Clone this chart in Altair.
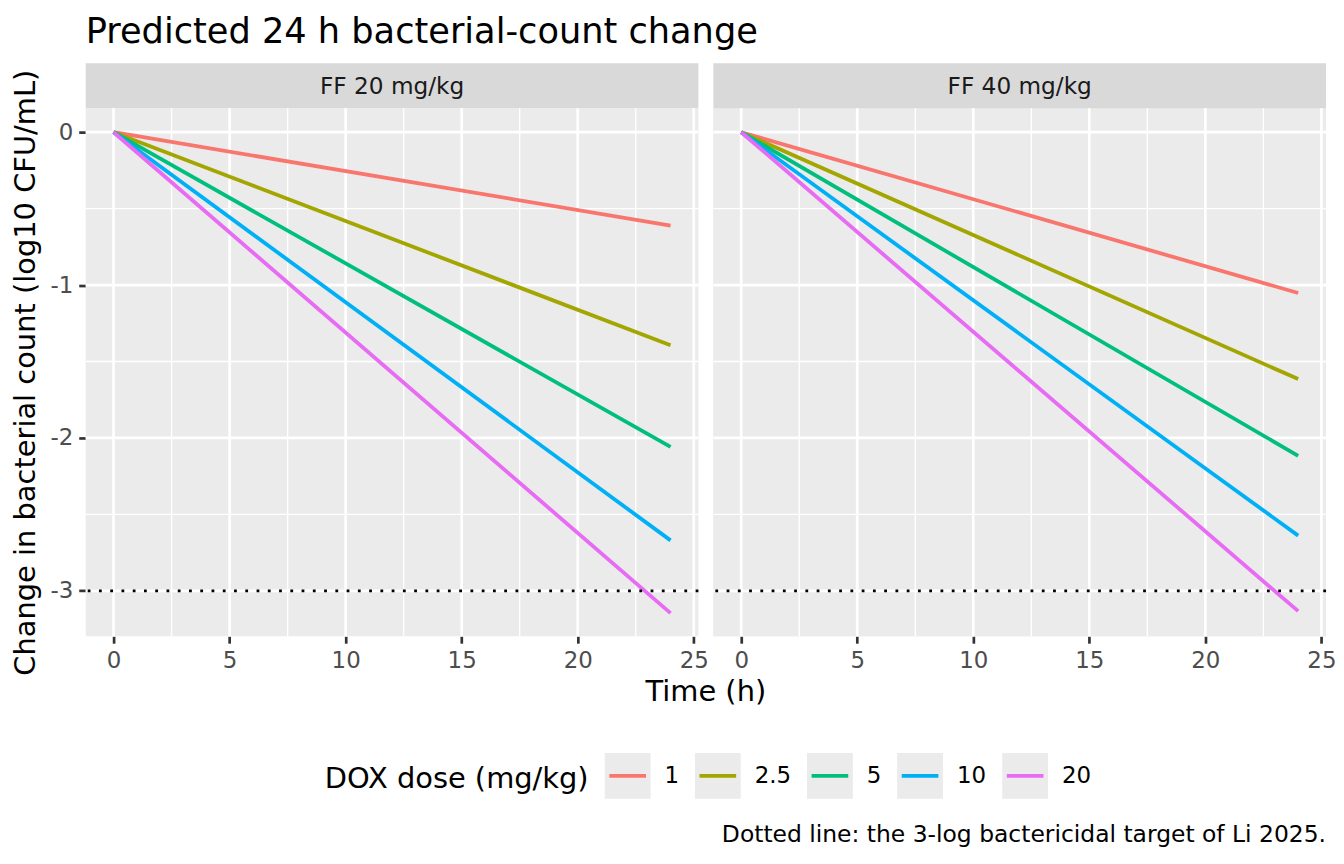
import altair as alt
import pandas as pd

# ---------------- data ----------------
title_text = "Predicted 24 h bacterial-count change"
panels = ["FF 20 mg/kg", "FF 40 mg/kg"]
doses = ["1", "2.5", "5", "10", "20"]
dose_colors = ["#F8766D", "#A3A500", "#00BF7D", "#00B0F6", "#E76BF3"]
times = [0, 24]
start_ff20 = [0, 0, 0, 0, 0]
end_ff20 = [-0.611, -1.394, -2.059, -2.670, -3.146]
start_ff40 = [0, 0, 0, 0, 0]
end_ff40 = [-1.052, -1.615, -2.117, -2.639, -3.133]
x_major = [0, 5, 10, 15, 20, 25]
x_minor = [2.5, 7.5, 12.5, 17.5, 22.5]
y_major = [0, -1, -2, -3]
y_minor = [-0.5, -1.5, -2.5]
target_line = [-3]
x_title = "Time (h)"
y_title = "Change in bacterial count (log10 CFU/mL)"
legend_title = "DOX dose (mg/kg)"
caption = "Dotted line: the 3-log bactericidal target of Li 2025."

# ---------------- styling ----------------
FONT = "DejaVu Sans"
W, H = 615, 530
STRIP = 45
LX, LY = 240, 645
SW = 3.8  # data line width

xscale = alt.Scale(domain=[-1.2, 25.2], nice=False, zero=False)
yscale = alt.Scale(domain=[-3.297, 0.157], nice=False, zero=False)

xaxis = alt.Axis(values=x_major, title=None, grid=False, domain=False,
                 tickSize=7, tickWidth=2.7, tickColor="#333333",
                 labelFont=FONT, labelFontSize=23, labelColor="#4D4D4D",
                 labelPadding=6, labelFlush=False, labelOverlap=False)
yaxis_left = alt.Axis(values=y_major, title=y_title, grid=False, domain=False,
                      tickSize=7, tickWidth=2.7, tickColor="#333333",
                      labelFont=FONT, labelFontSize=23, labelColor="#4D4D4D",
                      labelPadding=6, labelFlush=False, labelOverlap=False,
                      labelExpr="replace(datum.label, '\u2212', '-')",
                      titleFont=FONT, titleFontSize=29, titleFontWeight="normal",
                      titleColor="black", titlePadding=9, titleLimit=800)

legend_common = dict(orient="none", legendX=LX, legendY=LY, direction="horizontal",
                     title=legend_title, titleOrient="left", titleAnchor="middle",
                     titleBaseline="middle", titleFont=FONT, titleFontSize=29,
                     titleFontWeight="normal", titleColor="black", titlePadding=14,
                     titleLimit=500, labelLimit=200,
                     labelFont=FONT, labelFontSize=23, labelColor="black",
                     labelOffset=12, columnPadding=7.5, symbolSize=2116,
                     symbolStrokeWidth=SW, padding=0)

# line key: a short stroke, with zero-length corner points so its bounds equal the box
legend_lines = alt.Legend(symbolType="M-1,-1L-1,-1M1,1L1,1M-0.8,0L0.8,0",
                          zindex=2, **legend_common)
legend_boxes = alt.Legend(symbolType="M-1,-1H1V1H-1Z", symbolStrokeColor="transparent",
                          symbolOpacity=1, labelOpacity=0, titleOpacity=0, zindex=1,
                          **legend_common)


def panel(name, starts, ends, left):
    yax = yaxis_left if left else None
    rows = []
    for d, s, e in zip(doses, starts, ends):
        rows.append({"dose": d, "time": times[0], "change": s})
        rows.append({"dose": d, "time": times[1], "change": e})
    df = pd.DataFrame(rows)

    X = lambda f: alt.X(f, scale=xscale, axis=xaxis)
    Y = lambda f: alt.Y(f, scale=yscale, axis=yax)
    one = pd.DataFrame({"panel": [name]})

    bg = alt.Chart(one).mark_rect(fill="#EBEBEB").encode(
        x=alt.value(0), x2=alt.value(W), y=alt.value(0), y2=alt.value(H))
    strip_rect = alt.Chart(one).mark_rect(fill="#D9D9D9").encode(
        x=alt.value(0), x2=alt.value(W), y=alt.value(-STRIP), y2=alt.value(0))
    strip_text = alt.Chart(one).mark_text(
        font=FONT, fontSize=23.3, color="#1A1A1A", baseline="alphabetic",
        align="center").encode(x=alt.value(W / 2), y=alt.value(-14), text="panel:N")

    gx_minor = alt.Chart(pd.DataFrame({"gx": x_minor})).mark_rule(
        color="white", strokeWidth=1.35).encode(x=X("gx:Q"))
    gx_major = alt.Chart(pd.DataFrame({"gx": x_major})).mark_rule(
        color="white", strokeWidth=2.7).encode(x=X("gx:Q"))
    gy_minor = alt.Chart(pd.DataFrame({"gy": y_minor})).mark_rule(
        color="white", strokeWidth=1.35).encode(y=Y("gy:Q"))
    gy_major = alt.Chart(pd.DataFrame({"gy": y_major})).mark_rule(
        color="white", strokeWidth=2.7).encode(y=Y("gy:Q"))

    lines = alt.Chart(df).mark_line(strokeWidth=SW).encode(
        x=X("time:Q"), y=Y("change:Q"),
        color=alt.Color("dose:N", scale=alt.Scale(domain=doses, range=dose_colors),
                        legend=legend_lines),
        order="time:Q")

    target = alt.Chart(pd.DataFrame({"ty": target_line})).mark_rule(
        color="black", strokeWidth=2.8, strokeDash=[2.8, 8.5]).encode(y=Y("ty:Q"))

    layers = [bg, strip_rect, strip_text, gx_minor, gx_major, gy_minor, gy_major,
              lines, target]

    if left:
        title_mark = alt.Chart(pd.DataFrame({"t": [title_text]})).mark_text(
            font=FONT, fontSize=35.3, color="black", align="left",
            baseline="alphabetic").encode(x=alt.value(0), y=alt.value(-65), text="t:N")
        xt = alt.Chart(pd.DataFrame({"t": [x_title]})).mark_text(
            font=FONT, fontSize=29, color="black", align="center",
            baseline="alphabetic").encode(x=alt.value(W + 7.5), y=alt.value(595), text="t:N")
        keys = [float(d) for d in doses]
        boxes = alt.Chart(pd.DataFrame({"key": keys})).transform_filter(
            "false").mark_square(filled=True, opacity=1).encode(
            fill=alt.Fill("key:O", scale=alt.Scale(domain=keys, range=["#EBEBEB"] * 5),
                          legend=legend_boxes))
        layers += [title_mark, xt, boxes]
    else:
        cap = alt.Chart(pd.DataFrame({"t": [caption]})).mark_text(
            font=FONT, fontSize=23.5, color="black", align="right",
            baseline="alphabetic").encode(x=alt.value(W), y=alt.value(737), text="t:N")
        layers += [cap]

    return alt.layer(*layers).properties(width=W, height=H)


chart = alt.hconcat(
    panel(panels[0], start_ff20, end_ff20, True),
    panel(panels[1], start_ff40, end_ff40, False),
    spacing=15, bounds="flush"
).properties(
    padding={"left": 4, "top": 6, "right": 0, "bottom": 0}
).configure(font=FONT).configure_view(fill="#EBEBEB", strokeWidth=0)

chart.save("out.html", embed_options={"renderer": "svg", "actions": False})
